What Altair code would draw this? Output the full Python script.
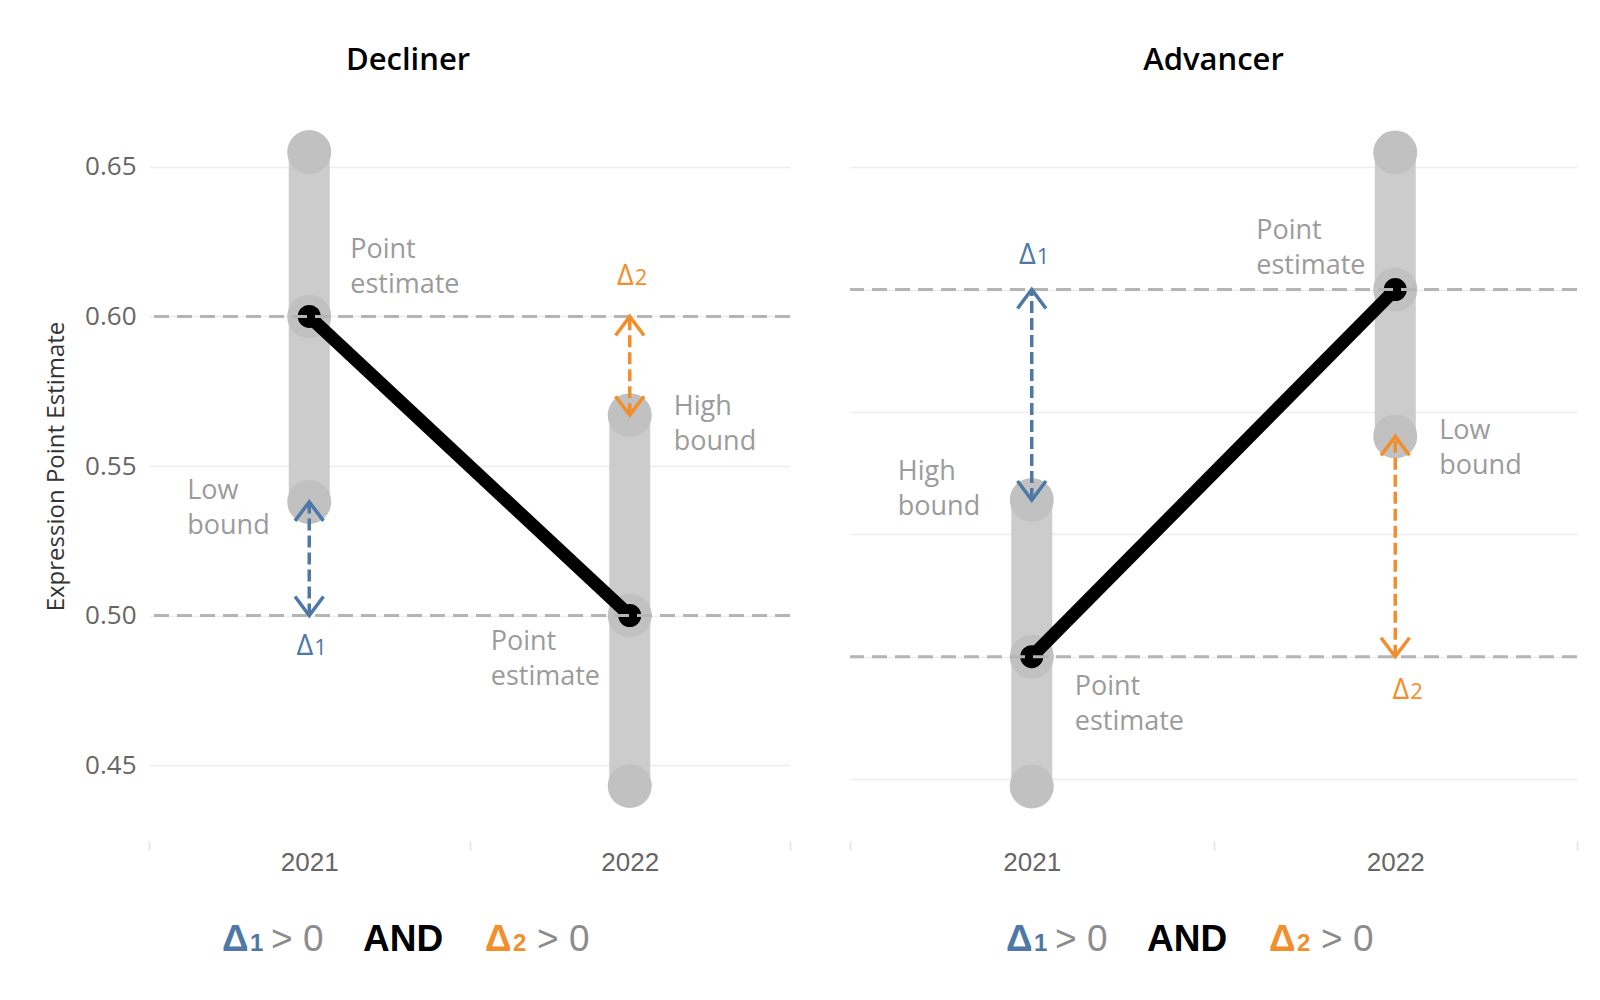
import altair as alt
import pandas as pd

# ---------------- data ----------------
PANELS = ["Decliner", "Advancer"]
YEARS = ["2021", "2022"]

DECLINER_LOW = [0.538, 0.443]
DECLINER_POINT = [0.600, 0.500]
DECLINER_HIGH = [0.655, 0.567]

ADVANCER_LOW = [0.447, 0.590]
ADVANCER_POINT = [0.500, 0.650]
ADVANCER_HIGH = [0.564, 0.706]

DECLINER_TICKS = [0.45, 0.50, 0.55, 0.60, 0.65]
ADVANCER_TICKS = [0.45, 0.50, 0.55, 0.60, 0.65, 0.70]

Y_TITLE = "Expression Point Estimate"
LABEL_POINT = "Point\nestimate"
LABEL_LOW = "Low\nbound"
LABEL_HIGH = "High\nbound"
DELTA_SYMBOL = "Δ"
DELTA_DIGITS = ["1", "2"]
FORMULA = ["Δ", "1", "> 0", "AND", "Δ", "2", "> 0"]

# ---------------- style ----------------
H = 750
BLUE = "#4e79a7"
ORANGE = "#f28e2b"
ANNOT_GREY = "#9b9b9b"
FONT = "Open Sans"
UP = "M-0.9,1.2L0,0L0.9,1.2"
DOWN = "M-0.9,-1.2L0,0L0.9,-1.2"

FORMULA_STYLE = [  # (color, size, bold, x offset)
    (BLUE, 37, True, 0), (BLUE, 24, True, 28), ("#8c8c8c", 37, False, 49),
    ("black", 37, True, 141), (ORANGE, 37, True, 263), (ORANGE, 24, True, 291),
    ("#8c8c8c", 37, False, 315),
]


def make_panel(title, low, point, high, ticks, domain, width, arrows, annots,
               formula_x, show_axis, title_dx):
    df = pd.DataFrame({"year": YEARS, "low": low, "point": point, "high": high})

    xs = alt.Scale(domain=YEARS, paddingInner=0, paddingOuter=0)
    xa = alt.Axis(labelAngle=0, labelFont="Liberation Sans", labelFontSize=26,
                  labelColor="#666666", labelPadding=-1, tickBand="extent",
                  ticks=True, tickSize=9, tickColor="#e2e2e2", tickWidth=1.5,
                  domain=False, grid=False)

    def X():
        return alt.X("year:N", scale=xs, axis=xa, title=None)

    ys = alt.Scale(domain=domain, nice=False, zero=False)
    if show_axis:
        ya = alt.Axis(values=ticks, format=".2f", labelFont=FONT, labelFontSize=26,
                      labelColor="#666666", labelPadding=13, ticks=False,
                      domain=False, grid=True, gridColor="#ededed", gridWidth=1.5,
                      titleFont=FONT, titleFontSize=24, titleFontWeight="normal",
                      titleColor="#333333", titlePadding=16)
        yt = Y_TITLE
    else:
        ya = alt.Axis(values=ticks, labels=False, ticks=False, domain=False,
                      grid=True, gridColor="#ededed", gridWidth=1.5)
        yt = None

    def Y(f):
        return alt.Y(f, type="quantitative", scale=ys, axis=ya, title=yt)

    base = alt.Chart(df)
    layers = []
    # range bars
    layers.append(base.mark_rule(strokeWidth=41, strokeCap="round", color="#cccccc")
                  .encode(x=X(), y=Y("low"), y2="high"))
    # circles at low / point / high
    layers.append(base.transform_fold(["low", "point", "high"], as_=["kind", "value"])
                  .mark_circle(size=1936, color="#c1c1c1", opacity=1)
                  .encode(x=X(), y=Y("value")))
    # black connecting line and dots
    layers.append(base.mark_line(color="black", strokeWidth=13)
                  .encode(x=X(), y=Y("point")))
    layers.append(base.mark_circle(size=529, color="black", opacity=1)
                  .encode(x=X(), y=Y("point")))
    # dashed reference lines at point estimates
    layers.append(base.mark_rule(strokeDash=[15, 8], strokeWidth=3, color="#b5b5b5")
                  .encode(y=Y("point")))

    # arrows
    for (yr, lo, hi, color, digit, lab, ddx, ddy) in arrows:
        adf = pd.DataFrame({"year": [yr], "lo": [lo], "hi": [hi], "lab": [lab],
                            "sym": [DELTA_SYMBOL], "digit": [digit]})
        ac = alt.Chart(adf)
        layers.append(ac.mark_rule(strokeDash=[12, 5], strokeWidth=3.5, color=color)
                      .encode(x=X(), y=Y("lo"), y2="hi"))
        layers.append(ac.mark_point(shape=UP, filled=False, size=1000, strokeWidth=3.5,
                                    opacity=1, color=color)
                      .encode(x=X(), y=Y("hi")))
        layers.append(ac.mark_point(shape=DOWN, filled=False, size=1000, strokeWidth=3.5,
                                    opacity=1, color=color)
                      .encode(x=X(), y=Y("lo")))
        layers.append(ac.mark_text(font=FONT, fontSize=29, color=color, align="right",
                                   baseline="alphabetic", dx=4 + ddx, dy=ddy)
                      .encode(x=X(), y=Y("lab"), text="sym:N"))
        layers.append(ac.mark_text(font=FONT, fontSize=22, color=color, align="left",
                                   baseline="alphabetic", dx=5 + ddx, dy=ddy)
                      .encode(x=X(), y=Y("lab"), text="digit:N"))

    # grey annotations
    for (yr, field, txt, ddx, ddy) in annots:
        layers.append(base.transform_filter(alt.datum.year == yr)
                      .mark_text(font=FONT, fontSize=27, color=ANNOT_GREY, align="left",
                                 baseline="middle", lineBreak="\n", lineHeight=35,
                                 dx=ddx, dy=ddy - 17)
                      .encode(x=X(), y=Y(field), text=alt.value(txt)))

    # formula below the chart
    for piece, (color, size, bold, off) in zip(FORMULA, FORMULA_STYLE):
        fdf = pd.DataFrame({"t": [piece]})
        layers.append(alt.Chart(fdf).mark_text(
            font="Liberation Sans", fontSize=size, fontWeight="bold" if bold else "normal",
            color=color, align="left", baseline="alphabetic")
            .encode(x=alt.value(formula_x + off), y=alt.value(H + 110), text="t:N"))

    return alt.layer(*layers).properties(
        width=width, height=H,
        title=alt.TitleParams(title, font=FONT, fontSize=31, fontWeight=600,
                              color="black", anchor="middle", frame="bounds",
                              offset=14, dx=title_dx))


left = make_panel(
    PANELS[0], DECLINER_LOW, DECLINER_POINT, DECLINER_HIGH, DECLINER_TICKS,
    [0.4246, 0.6754], 641,
    arrows=[
        (YEARS[0], DECLINER_POINT[1], DECLINER_LOW[0], BLUE, DELTA_DIGITS[0], DECLINER_POINT[1], 0, 39),
        (YEARS[1], DECLINER_HIGH[1], DECLINER_POINT[0], ORANGE, DELTA_DIGITS[1], DECLINER_POINT[0], 0, -31),
    ],
    annots=[
        (YEARS[0], "point", LABEL_POINT, 41, -49),
        (YEARS[0], "low", LABEL_LOW, -122, 6),
        (YEARS[1], "high", LABEL_HIGH, 44, 9),
        (YEARS[1], "point", LABEL_POINT, -139, 43),
    ],
    formula_x=73, show_axis=True, title_dx=-10)

right = make_panel(
    PANELS[1], ADVANCER_LOW, ADVANCER_POINT, ADVANCER_HIGH, ADVANCER_TICKS,
    [0.4247, 0.7311], 727,
    arrows=[
        (YEARS[0], ADVANCER_HIGH[0], ADVANCER_POINT[1], BLUE, DELTA_DIGITS[0], ADVANCER_POINT[1], 0, -26),
        (YEARS[1], ADVANCER_POINT[0], ADVANCER_LOW[1], ORANGE, DELTA_DIGITS[1], ADVANCER_POINT[0], 10, 42),
    ],
    annots=[
        (YEARS[1], "point", LABEL_POINT, -139, -42),
        (YEARS[1], "low", LABEL_LOW, 44, 12),
        (YEARS[0], "high", LABEL_HIGH, -134, -11),
        (YEARS[0], "point", LABEL_POINT, 43, 47),
    ],
    formula_x=156, show_axis=False, title_dx=0)

chart = (alt.hconcat(left, right, spacing=56)
         .resolve_scale(y="independent")
         .properties(padding={"left": 36, "top": 37, "right": 5, "bottom": 5})
         .configure_view(stroke=None))

chart.save("out.html", embed_options={"renderer": "svg", "actions": False})
